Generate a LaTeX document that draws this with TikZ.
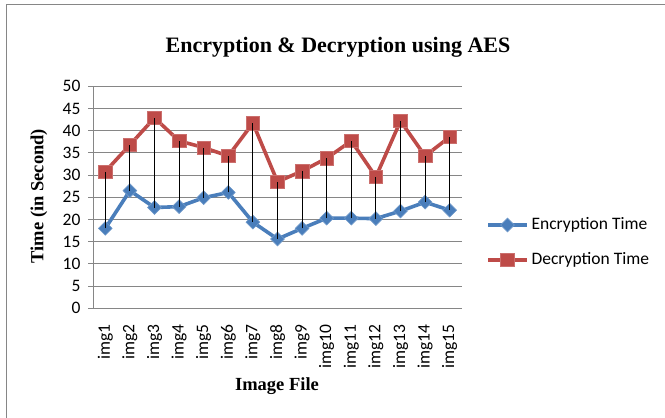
\documentclass[tikz,border=0pt]{standalone}
\usepackage{fontspec}
\setmainfont{Liberation Serif}
\newfontfamily\chartfont{Carlito}
\usetikzlibrary{shapes.geometric}
\definecolor{encblue}{RGB}{74,126,187}
\definecolor{decred}{RGB}{190,75,72}
\definecolor{gridgray}{RGB}{134,134,134}
\tikzset{
  grid line/.style={draw=gridgray, line width=1pt},
  enc line/.style={draw=encblue, line width=3.6pt, line join=round},
  dec line/.style={draw=decred, line width=3.6pt, line join=round},
  enc mark/.style={diamond, fill=encblue, draw=encblue!80!white, line width=0.6pt, inner sep=0pt, minimum size=14pt},
  dec mark/.style={rectangle, fill=decred, draw=decred!80!white, line width=0.6pt, inner sep=0pt, minimum size=13.5pt},
  drop/.style={draw=black, line width=0.9pt},
  tick label/.style={font=\chartfont\fontsize{17.5}{17.5}\selectfont, text=black},
  axis title/.style={font=\bfseries\fontsize{18.5}{18.5}\selectfont}
}
\begin{document}
\begin{tikzpicture}[x=1pt, y=-1pt]
\useasboundingbox (0,0) rectangle (665,418);
\draw[gridgray, line width=1.5pt] (6.5,420) -- (6.5,4.5) -- (670,4.5);
\node[font=\bfseries\fontsize{22}{22}\selectfont] (title) at (338,47) {Encryption \& Decryption using AES};
\node[axis title, rotate=90] (ytitle) at (39,196) {Time (in Second)};
\node[axis title] (xtitle) at (277,386) {Image File};
% chart area: one unit = one image, one unit = one second
\begin{scope}[shift={(93,308.3)}, x=24.6pt, y=4.44pt]
\foreach \v in {5,10,...,50}
  \draw[grid line] (0,\v) -- (15,\v);
\draw[grid line] (0,0) -- (0,50);
\draw[grid line] (0,0) -- (15,0);
\foreach \v in {0,5,...,50} {
  \draw[grid line] (0,\v) -- ++(-4.7pt,0);
  \node[tick label, anchor=east] (yl\v) at ([xshift=-9pt]0,\v) {\v};
}
\foreach \i in {1,...,15}
  \node[tick label, rotate=90, anchor=east] (xl\i) at ([yshift=-13pt]\i-0.5,0) {img\i};
% series
\draw[enc line] plot coordinates {(0.5,18.0) (1.5,26.5) (2.5,22.7) (3.5,22.9) (4.5,24.9) (5.5,26.1) (6.5,19.4) (7.5,15.6) (8.5,18.0) (9.5,20.3) (10.5,20.3) (11.5,20.2) (12.5,21.9) (13.5,23.9) (14.5,22.1)};
\draw[dec line] plot coordinates {(0.5,30.8) (1.5,36.8) (2.5,42.9) (3.5,37.7) (4.5,36.2) (5.5,34.3) (6.5,41.7) (7.5,28.5) (8.5,30.9) (9.5,33.8) (10.5,37.7) (11.5,29.6) (12.5,42.2) (13.5,34.3) (14.5,38.6)};
\foreach \i/\e/\d in {1/18.0/30.8, 2/26.5/36.8, 3/22.7/42.9, 4/22.9/37.7, 5/24.9/36.2,
    6/26.1/34.3, 7/19.4/41.7, 8/15.6/28.5, 9/18.0/30.9, 10/20.3/33.8,
    11/20.3/37.7, 12/20.2/29.6, 13/21.9/42.2, 14/23.9/34.3, 15/22.1/38.6} {
  \node[enc mark] (e\i) at (\i-0.5,\e) {};
  \node[dec mark] (d\i) at (\i-0.5,\d) {};
  \draw[drop] (e\i.center) -- (d\i.center);
}
\end{scope}
% legend
\coordinate (encA) at (488,225);
\coordinate (encB) at (527,225);
\coordinate (decA) at (488,260);
\coordinate (decB) at (527,260);
\draw[enc line] (encA) -- (encB);
\node[enc mark] (encM) at (507.5,225) {};
\node[tick label, anchor=west] (encT) at (528,225) {Encryption Time};
\draw[dec line] (decA) -- (decB);
\node[dec mark] (decM) at (507.5,260) {};
\node[tick label, anchor=west] (decT) at (528,260) {Decryption Time};
\end{tikzpicture}
\end{document}
